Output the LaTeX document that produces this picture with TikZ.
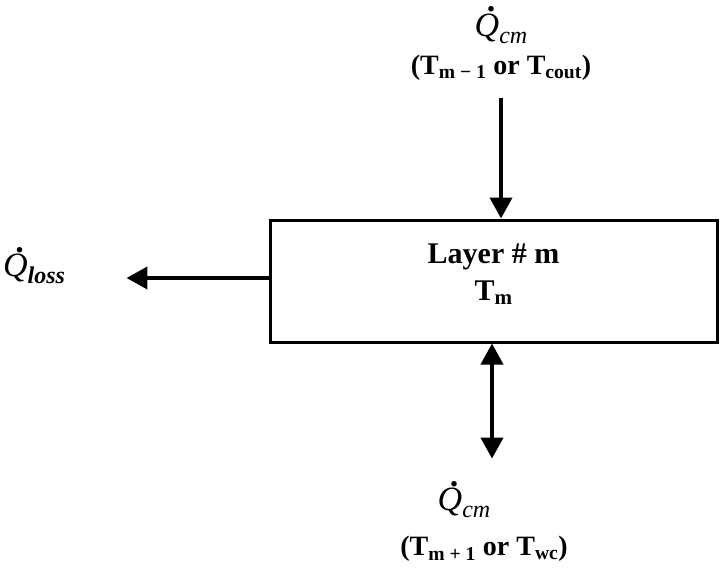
\documentclass[tikz,border=0pt]{standalone}
\usepackage{fontspec}
\setmainfont{Liberation Serif}
\usetikzlibrary{arrows.meta}
% Q with a dot on top, and its subscript
\newcommand\qdot[1]{{\fontsize{34}{38}\selectfont
  \makebox[0pt][l]{\hspace{0.36em}\smash{\raisebox{0.72em}{\upshape\bfseries .}}}\textit{Q}%
  \raisebox{-7pt}{\fontsize{24}{28}\selectfont #1}}}
\tikzset{
  flow/.style={line width=4pt,-{Triangle[width=22pt,length=21pt]}},
  twoway/.style={line width=4pt,{Triangle[width=22pt,length=21pt]}-{Triangle[width=22pt,length=21pt]}},
  layerbox/.style={draw,line width=3pt,minimum width=447pt,minimum height=122pt},
  layertext/.style={align=center,font=\fontsize{30}{37}\selectfont\bfseries},
  heatlabel/.style={align=center,font=\fontsize{28}{38}\selectfont}
}
\begin{document}
\begin{tikzpicture}[x=1pt,y=-1pt]
  \useasboundingbox (0,0) rectangle (720,568);
  % the layer itself
  \node[layerbox] (layer) at (493.5,281) {};
  \node[layertext] (layername) at ([yshift=7pt]layer.center) {Layer \# m\\T\textsubscript{m}};
  % heat from the layer above
  \node[heatlabel] (cmtop) at (501,47) {\qdot{\itshape cm}\\
    \bfseries(T\textsubscript{m − 1} or T\textsubscript{cout})};
  % loss to the side
  \node[heatlabel] (qloss) at (34,269) {\qdot{\bfseries\itshape loss}};
  % heat to and from the layer below
  \node[heatlabel] (cmbot) at (464,503) {\qdot{\itshape cm}};
  \node[heatlabel,font=\fontsize{28}{38}\selectfont\bfseries] (cmbottemp) at (484,549)
    {(T\textsubscript{m + 1} or T\textsubscript{wc})};
  \draw[flow,shorten <=14pt] (cmtop.south) -- (cmtop.south |- layer.north);
  \draw[flow,shorten >=58pt] ([yshift=3pt]layer.west) -- ([yshift=3pt]layer.west -| qloss.east);
  \draw[twoway,shorten >=26pt] ([xshift=-1.5pt]layer.south) -- ([xshift=-1.5pt]layer.south |- cmbot.north);
\end{tikzpicture}
\end{document}
